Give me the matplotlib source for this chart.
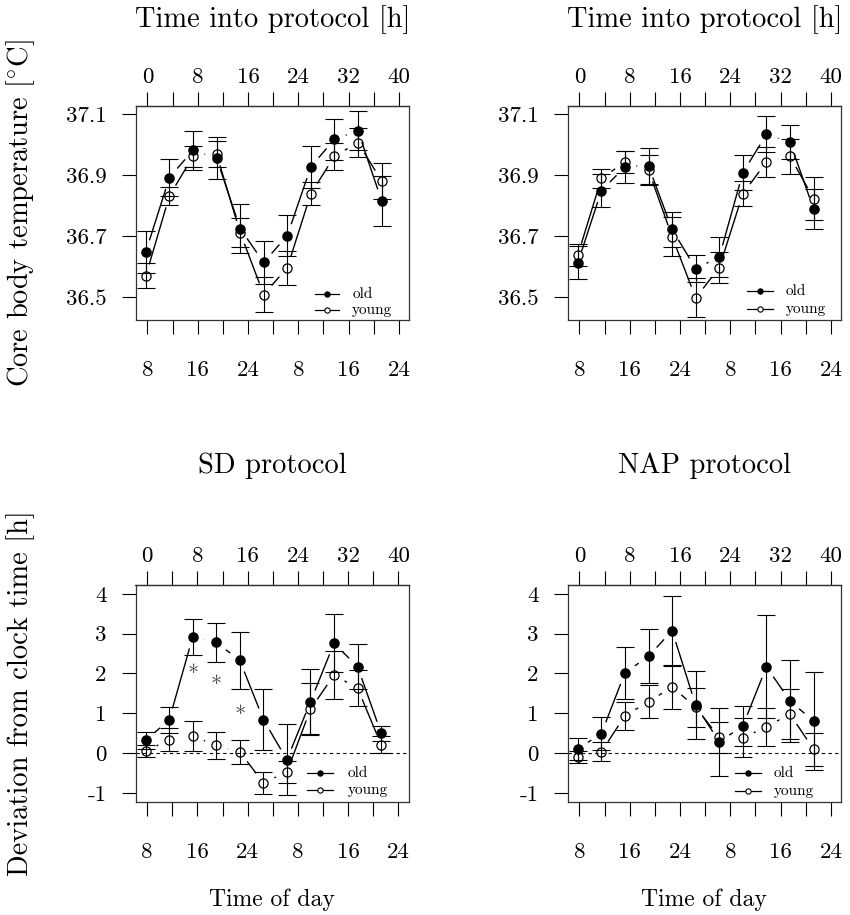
import numpy as np
import matplotlib
matplotlib.use("Agg")
import matplotlib.pyplot as plt
from matplotlib.transforms import offset_copy

plt.rcParams['font.family'] = ['cmr10', 'DejaVu Serif']
plt.rcParams['mathtext.fontset'] = 'cm'
plt.rcParams['axes.unicode_minus'] = False

# ---------------- data ----------------
times = [-0.25, 3.5, 7.25, 11.0, 14.75, 18.5, 22.25, 26.0, 29.75, 33.5, 37.25]

sd_temp_old = [36.649, 36.892, 36.981, 36.956, 36.725, 36.614, 36.702, 36.927, 37.017, 37.045, 36.816]
sd_temp_old_se = [0.069, 0.060, 0.064, 0.068, 0.081, 0.069, 0.068, 0.068, 0.068, 0.064, 0.082]
sd_temp_young = [36.570, 36.832, 36.961, 36.969, 36.712, 36.509, 36.597, 36.839, 36.962, 37.006, 36.881]
sd_temp_young_se = [0.041, 0.029, 0.035, 0.044, 0.046, 0.057, 0.056, 0.038, 0.044, 0.047, 0.058]

nap_temp_old = [36.613, 36.849, 36.927, 36.929, 36.722, 36.594, 36.632, 36.908, 37.033, 37.008, 36.789]
nap_temp_old_se = [0.054, 0.053, 0.052, 0.059, 0.056, 0.044, 0.066, 0.057, 0.059, 0.055, 0.067]
nap_temp_young = [36.638, 36.889, 36.943, 36.916, 36.698, 36.498, 36.597, 36.839, 36.943, 36.961, 36.823]
nap_temp_young_se = [0.037, 0.030, 0.036, 0.049, 0.064, 0.064, 0.051, 0.041, 0.049, 0.057, 0.071]

sd_dev_old = [0.32, 0.83, 2.92, 2.78, 2.33, 0.84, -0.17, 1.29, 2.76, 2.17, 0.50]
sd_dev_old_se = [0.21, 0.33, 0.46, 0.48, 0.71, 0.77, 0.89, 0.81, 0.73, 0.56, 0.19]
sd_dev_young = [0.05, 0.33, 0.43, 0.19, 0.03, -0.75, -0.48, 1.10, 1.96, 1.63, 0.21]
sd_dev_young_se = [0.14, 0.29, 0.38, 0.33, 0.30, 0.28, 0.28, 0.66, 0.60, 0.45, 0.21]

nap_dev_old = [0.10, 0.49, 2.02, 2.43, 3.08, 1.20, 0.28, 0.68, 2.17, 1.31, 0.80]
nap_dev_old_se = [0.28, 0.41, 0.65, 0.68, 0.88, 0.85, 0.86, 0.50, 1.29, 1.03, 1.24]
nap_dev_young = [-0.11, 0.03, 0.94, 1.29, 1.66, 1.15, 0.39, 0.38, 0.66, 0.98, 0.09]
nap_dev_young_se = [0.15, 0.24, 0.35, 0.41, 0.55, 0.49, 0.39, 0.49, 0.48, 0.64, 0.42]

sig_x = [7.25, 11.0, 14.75]
sig_y = [2.12, 1.86, 1.10]

top_ticks = [0, 8, 16, 24, 32, 40]
top_labels = ['0', '8', '16', '24', '32', '40']
minor_ticks = [4, 12, 20, 28, 36]
clock_labels = ['8', '16', '24', '8', '16', '24']

temp_ticks = [36.5, 36.7, 36.9, 37.1]
temp_labels = ['36.5', '36.7', '36.9', '37.1']
dev_ticks = [-1, 0, 1, 2, 3, 4]
dev_labels = ['-1', '0', '1', '2', '3', '4']

# ---------------- layout ----------------
W, H = 850, 915
DPI = 100
fig = plt.figure(figsize=(W / DPI, H / DPI), dpi=DPI)
fig.patch.set_facecolor('white')


def box(l, t, r, b):
    return [l / W, 1 - b / H, (r - l) / W, (b - t) / H]


XLIM = (-1.86, 41.61)
TICK_FS = 16.5
GAP_PX = 12


def b_line(ax, x, y, **kw):
    """R type='b' line: segments with gaps around the points."""
    trans = ax.transData
    pts = trans.transform(np.column_stack([x, y]))
    inv = trans.inverted()
    for i in range(len(pts) - 1):
        p0, p1 = pts[i], pts[i + 1]
        d = p1 - p0
        L = np.hypot(d[0], d[1])
        if L <= 2 * GAP_PX:
            continue
        u = d / L
        seg = inv.transform(np.vstack([p0 + u * GAP_PX, p1 - u * GAP_PX]))
        ax.plot(seg[:, 0], seg[:, 1], color='black', lw=1.0,
                solid_capstyle='butt', zorder=2, **kw)


def panel(rect, ylim, yticks, ylabels, old, old_se, young, young_se,
          leg_line, leg_text, leg_y, zero=False):
    ax = fig.add_axes(rect)
    ax.set_xlim(*XLIM)
    ax.set_ylim(*ylim)
    for s in ax.spines.values():
        s.set_linewidth(0.9)
        s.set_color('#333333')
    # bottom axis: clock time
    ax.set_xticks(top_ticks)
    ax.set_xticklabels(clock_labels)
    ax.set_xticks(minor_ticks, minor=True)
    ax.tick_params(axis='x', which='both', direction='out', length=10,
                   width=0.8, labelsize=TICK_FS, pad=19.5)
    ax.set_yticks(yticks)
    ax.set_yticklabels(ylabels)
    ax.tick_params(axis='y', direction='out', length=10, width=0.8,
                   labelsize=TICK_FS, pad=11)
    # top axis: time into protocol
    sec = ax.secondary_xaxis('top')
    sec.set_xticks(top_ticks)
    sec.set_xticklabels(top_labels)
    sec.set_xticks(minor_ticks, minor=True)
    sec.tick_params(axis='x', which='both', direction='out', length=10,
                    width=0.8, labelsize=TICK_FS, pad=3.5)
    sec.spines['top'].set_linewidth(0.9)
    sec.spines['top'].set_color('#333333')

    if zero:
        ax.axhline(0, color='black', lw=0.8, ls=(0, (3, 3)), zorder=1)

    fig.canvas.draw()
    b_line(ax, times, old)
    b_line(ax, times, young)
    ax.errorbar(times, old, yerr=old_se, fmt='none', ecolor='black',
                elinewidth=0.8, capsize=6.8, capthick=0.8, zorder=3)
    ax.errorbar(times, young, yerr=young_se, fmt='none', ecolor='black',
                elinewidth=0.8, capsize=6.8, capthick=0.8, zorder=3)
    ax.plot(times, old, 'o', color='black', ms=6.6, zorder=4, ls='none')
    ax.plot(times, young, 'o', mfc='none', mec='black', mew=0.9, ms=6.6,
            zorder=4, ls='none')

    # legend (manual, bottom right)
    x0, x1 = leg_line
    xm = (x0 + x1) / 2
    for yy, filled, lab in [(leg_y[0], True, 'old'), (leg_y[1], False, 'young')]:
        ax.plot([x0, x1], [yy, yy], color='black', lw=0.9,
                transform=ax.transAxes, zorder=5)
        ax.plot([xm], [yy], 'o', transform=ax.transAxes, zorder=6,
                mfc='black' if filled else 'white', mec='black', mew=0.8,
                ms=3.8)
        ax.text(leg_text, yy, lab, transform=ax.transAxes, fontsize=11,
                ha='left', va='center')
    return ax


ax1 = panel(box(135.7, 105.7, 409, 320), (36.4257, 37.127), temp_ticks, temp_labels,
            sd_temp_old, sd_temp_old_se, sd_temp_young, sd_temp_young_se,
            (0.656, 0.744), 0.792, (0.123, 0.045))
ax2 = panel(box(567.7, 105.7, 841, 320), (36.4257, 37.127), temp_ticks, temp_labels,
            nap_temp_old, nap_temp_old_se, nap_temp_young, nap_temp_young_se,
            (0.655, 0.75), 0.797, (0.133, 0.05))
ax3 = panel(box(135.5, 585, 408.5, 801.7), (-1.225, 4.225), dev_ticks, dev_labels,
            sd_dev_old, sd_dev_old_se, sd_dev_young, sd_dev_young_se,
            (0.63, 0.725), 0.776, (0.133, 0.052), zero=True)
ax4 = panel(box(567.7, 585, 841, 801.7), (-1.225, 4.225), dev_ticks, dev_labels,
            nap_dev_old, nap_dev_old_se, nap_dev_young, nap_dev_young_se,
            (0.612, 0.707), 0.755, (0.133, 0.05), zero=True)

AST_FS = 16
ast_trans = offset_copy(ax3.transData, fig=fig, x=0, y=-0.53 * AST_FS, units='points')
for xx, yy in zip(sig_x, sig_y):
    ax3.text(xx, yy, '*', fontsize=AST_FS, color='#444444', ha='center',
             va='baseline', transform=ast_trans)

# titles / labels
TITLE_FS = 20.5
fig.text(272.4 / W, 1 - 27 / H, 'Time into protocol [h]', fontsize=TITLE_FS,
         ha='center', va='baseline')
fig.text(704.3 / W, 1 - 27 / H, 'Time into protocol [h]', fontsize=TITLE_FS,
         ha='center', va='baseline')
fig.text(272 / W, 1 - 473 / H, 'SD protocol', fontsize=TITLE_FS,
         ha='center', va='baseline')
fig.text(704.3 / W, 1 - 473 / H, 'NAP protocol', fontsize=TITLE_FS,
         ha='center', va='baseline')
fig.text(272 / W, 1 - 906 / H, 'Time of day', fontsize=17,
         ha='center', va='baseline')
fig.text(704.3 / W, 1 - 906 / H, 'Time of day', fontsize=17,
         ha='center', va='baseline')
fig.text(21 / W, 1 - 213 / H, r'Core body temperature [$^{\circ}$C]',
         fontsize=TITLE_FS, rotation=90, ha='center', va='center')
fig.text(21 / W, 1 - 693 / H, 'Deviation from clock time [h]',
         fontsize=TITLE_FS, rotation=90, ha='center', va='center')

fig.savefig('out.png', dpi=DPI, facecolor='white')
